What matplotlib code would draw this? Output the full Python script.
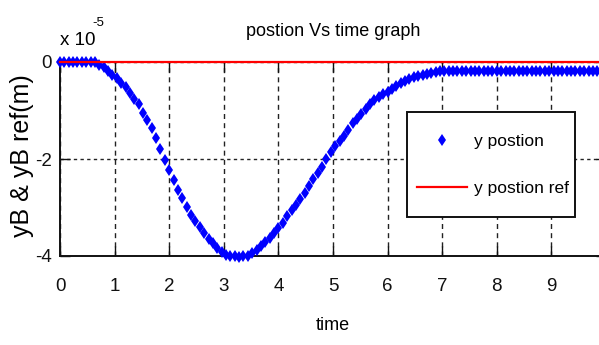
import matplotlib
matplotlib.use("Agg")
import matplotlib.pyplot as plt
from matplotlib import font_manager
from matplotlib.patches import Rectangle

# Sampled simulation output (position in units of 1e-5 m)
time = [round(0.08 * k, 2) for k in range(124)]
y_position = [
    0.00, 0.00, 0.00, 0.00, 0.00, 0.00, 0.00, 0.00, -0.01, -0.06,
    -0.11, -0.18, -0.26, -0.34, -0.43, -0.52, -0.63, -0.76, -0.87, -1.05,
    -1.20, -1.37, -1.56, -1.80, -2.03, -2.23, -2.44, -2.63, -2.80, -2.99,
    -3.16, -3.28, -3.40, -3.53, -3.64, -3.74, -3.83, -3.91, -3.97, -4.00,
    -4.01, -4.02, -4.01, -3.99, -3.94, -3.88, -3.80, -3.71, -3.62, -3.53,
    -3.42, -3.31, -3.18, -3.06, -2.94, -2.82, -2.71, -2.55, -2.41, -2.29,
    -2.16, -1.99, -1.85, -1.74, -1.63, -1.52, -1.40, -1.26, -1.17, -1.07,
    -0.97, -0.86, -0.79, -0.73, -0.67, -0.61, -0.55, -0.49, -0.44, -0.39,
    -0.35, -0.30, -0.28, -0.26, -0.24, -0.22, -0.20, -0.19, -0.18, -0.18,
    -0.18, -0.18, -0.18, -0.18, -0.18, -0.18, -0.18, -0.18, -0.18, -0.18,
    -0.18, -0.18, -0.18, -0.18, -0.18, -0.18, -0.18, -0.18, -0.18, -0.18,
    -0.18, -0.18, -0.18, -0.18, -0.18, -0.18, -0.18, -0.18, -0.18, -0.18,
    -0.18, -0.18, -0.18, -0.18,
]
ref_time = [0, 10]
ref_value = [0, 0]

x_ticks = [0, 1, 2, 3, 4, 5, 6, 7, 8, 9]
y_ticks = [0, -2, -4]
x_tick_labels = ["0", "1", "2", "3", "4", "5", "6", "7", "8", "9"]
y_tick_labels = ["0", "-2", "-4"]

available = {f.name for f in font_manager.fontManager.ttflist}
narrow = "Liberation Sans Narrow" if "Liberation Sans Narrow" in available else "Liberation Sans"
plt.rcParams["font.family"] = [narrow, "DejaVu Sans"]

fig = plt.figure(figsize=(5.99, 3.45), dpi=100)
W, H = 599, 345
left, bottom, top = 60, 256, 62
ax = fig.add_axes([left / W, 1 - bottom / H, 546 / W, (bottom - top) / H])

ax.plot(time, y_position, linestyle="none", marker="d", markersize=6.5,
        markeredgewidth=0, color="#0000ff", clip_on=False, zorder=3,
        label="y postion")
ax.plot(ref_time, ref_value, color="#ff0000", linewidth=1.6, clip_on=False,
        zorder=4, label="y postion ref")

ax.set_xlim(0, 10)
ax.set_ylim(-4, 0)
ax.set_xticks(x_ticks)
ax.set_xticklabels(x_tick_labels)
ax.set_yticks(y_ticks)
ax.set_yticklabels(y_tick_labels)

ax.tick_params(axis="both", direction="in", length=7, width=1.0,
               labelsize=13.5, top=True, right=True, colors="#111111")
ax.tick_params(axis="x", pad=16)
ax.tick_params(axis="y", pad=6)

for side in ("left", "bottom", "top", "right"):
    ax.spines[side].set_linewidth(1.4)
    ax.spines[side].set_color("#111111")

# vertical dashed grid, horizontal dotted grid
ax.grid(axis="x", linestyle=(0, (3.6, 3.0)), linewidth=1.0, color="#222222")
ax.grid(axis="y", linestyle=(0, (2.4, 2.4)), linewidth=1.0, color="#222222")
ax.set_axisbelow(True)

ax.set_xlabel("time", fontsize=13, labelpad=16)
ax.set_title("postion Vs time graph", fontsize=13, pad=19)

fig.text(22 / W, 1 - 156 / H, "yB & yB ref(m)", rotation=90, ha="center",
         va="center", fontsize=18, family=["Liberation Sans", "DejaVu Sans"])

# exponent marker above the y axis
fig.text(60 / W, 1 - 45 / H, "x 10", fontsize=13.5, ha="left", va="baseline")
fig.text(92 / W, 1 - 26 / H, "-5", fontsize=9.5, ha="left", va="baseline")

# legend box and entries
box = Rectangle((407 / W, 1 - 217 / H), 168 / W, 105 / H,
                transform=fig.transFigure, facecolor="white",
                edgecolor="#111111", linewidth=1.4, zorder=9, clip_on=False)
ax.add_artist(box)
leg = ax.legend(loc="upper left", bbox_to_anchor=(417 / W, 1 - 134 / H),
                bbox_transform=fig.transFigure, borderaxespad=0,
                fontsize=12.5, frameon=False, handlelength=2.9,
                handletextpad=0.4, borderpad=0, labelspacing=1.85,
                numpoints=1)
leg.set_zorder(10)

fig.savefig("out.png", dpi=100)
